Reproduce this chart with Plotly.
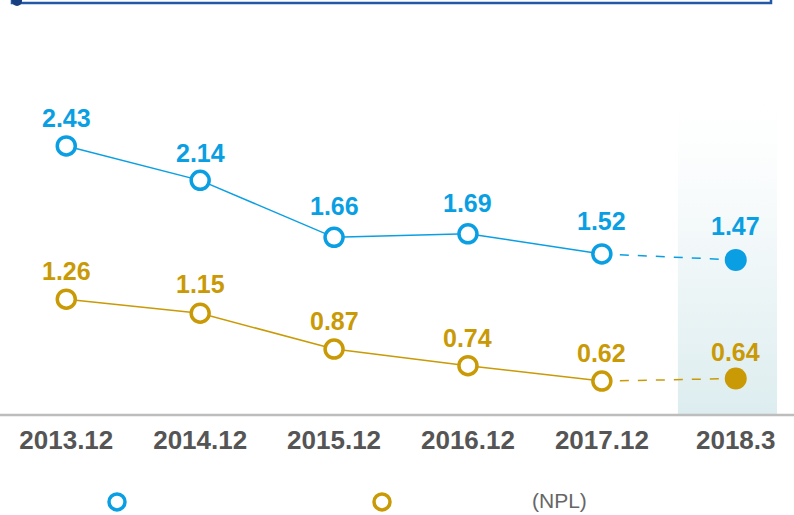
import plotly.graph_objects as go

categories = ["2013.12", "2014.12", "2015.12", "2016.12", "2017.12", "2018.3"]
blue_vals = [2.43, 2.14, 1.66, 1.69, 1.52, 1.47]
gold_vals = [1.26, 1.15, 0.87, 0.74, 0.62, 0.64]
legend_note = "(NPL)"

BLUE = "#0a9fe3"
GOLD = "#c99a06"
W, H = 794, 515
ML, MR, MT, MB = 0, 0, 70, 100

def px_x(p):
    return p / W

def px_y(p):
    return (H - MB - p) / (H - MT - MB)

idx = list(range(len(categories)))
fig = go.Figure()

# shaded highlight column (gradient)
fig.add_trace(go.Scatter(
    x=[4.568, 5.308, 5.308, 4.568, 4.568], y=[0.355, 0.355, 3.03, 3.03, 0.355],
    mode="lines", line=dict(width=0), fill="toself",
    fillgradient=dict(type="vertical", start=0.355, stop=3.03,
                      colorscale=[[0, "#ddedef"], [0.6, "#f6fafb"], [1, "rgba(255,255,255,0)"]]),
    hoverinfo="skip", showlegend=False, yaxis="y"))

annotations = []

def add_series(vals, color, axis, shifts):
    fig.add_trace(go.Scatter(x=idx[:5], y=vals[:5], mode="lines", line=dict(color=color, width=1.5),
                             showlegend=False, yaxis=axis, hoverinfo="skip"))
    fig.add_trace(go.Scatter(x=idx[4:], y=vals[4:], mode="lines", line=dict(color=color, width=1.5, dash="dash"),
                             showlegend=False, yaxis=axis, hoverinfo="skip"))
    fig.add_trace(go.Scatter(x=idx[:5], y=vals[:5], mode="markers",
                             marker=dict(size=18, color="white", line=dict(color=color, width=3.5)),
                             showlegend=False, yaxis=axis))
    fig.add_trace(go.Scatter(x=idx[5:], y=vals[5:], mode="markers",
                             marker=dict(size=22, color=color, line=dict(width=0)),
                             showlegend=False, yaxis=axis))
    for i, v, s in zip(idx, vals, shifts):
        annotations.append(dict(x=i, y=v, xref="x", yref=axis, text=f"{v:.2f}", showarrow=False,
                                yshift=s, yanchor="middle",
                                font=dict(family="Liberation Sans, Arial", size=25, color=color, weight="bold")))

add_series(gold_vals, GOLD, "y", [28, 29, 28, 28, 28, 27])
add_series(blue_vals, BLUE, "y2", [28, 27, 31, 31, 33, 34])

# legend-only traces
fig.add_trace(go.Scatter(x=[None], y=[None], mode="markers", name=" ",
                         marker=dict(size=16, color="white", line=dict(color=BLUE, width=3.5))))
fig.add_trace(go.Scatter(x=[None], y=[None], mode="markers", name=" ",
                         marker=dict(size=16, color="white", line=dict(color=GOLD, width=3.5))))

annotations.append(dict(text=legend_note, xref="paper", yref="paper", x=px_x(559), y=px_y(500),
                        showarrow=False, xanchor="center", yanchor="middle",
                        font=dict(family="Liberation Sans, Arial", size=21, color="#666666")))

shapes = [
    dict(type="line", xref="paper", yref="paper", x0=0, x1=1, y0=0, y1=0,
         line=dict(color="#bdbdbd", width=2.5)),
    dict(type="rect", xref="paper", yref="paper", x0=px_x(12), x1=px_x(771), y0=px_y(3), y1=px_y(-40),
         line=dict(color="#2358a6", width=2.5), fillcolor="rgba(0,0,0,0)"),
    dict(type="circle", xref="paper", yref="paper", x0=px_x(12), x1=px_x(22), y0=px_y(6), y1=px_y(-4),
         line=dict(width=0), fillcolor="#1a3f80"),
]

fig.update_layout(
    width=W, height=H, margin=dict(l=ML, r=MR, t=MT, b=MB, autoexpand=False),
    paper_bgcolor="white", plot_bgcolor="white",
    xaxis=dict(range=[-0.495, 5.435], tickvals=idx, ticktext=categories, showgrid=False, zeroline=False,
               showline=False, ticks="", ticklen=0, ticklabelstandoff=7, automargin=False,
               tickfont=dict(family="Liberation Sans, Arial", size=26, color="#555555", weight="bold")),
    yaxis=dict(range=[0.355, 3.05], visible=False),
    yaxis2=dict(range=[0.163, 3.07], visible=False, overlaying="y"),
    shapes=shapes,
    annotations=annotations,
    showlegend=True,
    legend=dict(orientation="h", x=px_x(97), y=px_y(502), yanchor="middle", xanchor="left",
                entrywidth=220, entrywidthmode="pixels", font=dict(size=16, color="#666666"),
                bgcolor="rgba(0,0,0,0)"),
)

fig.write_html("out.html", post_script="document.body.style.margin='0';",
               config={"displayModeBar": False})
